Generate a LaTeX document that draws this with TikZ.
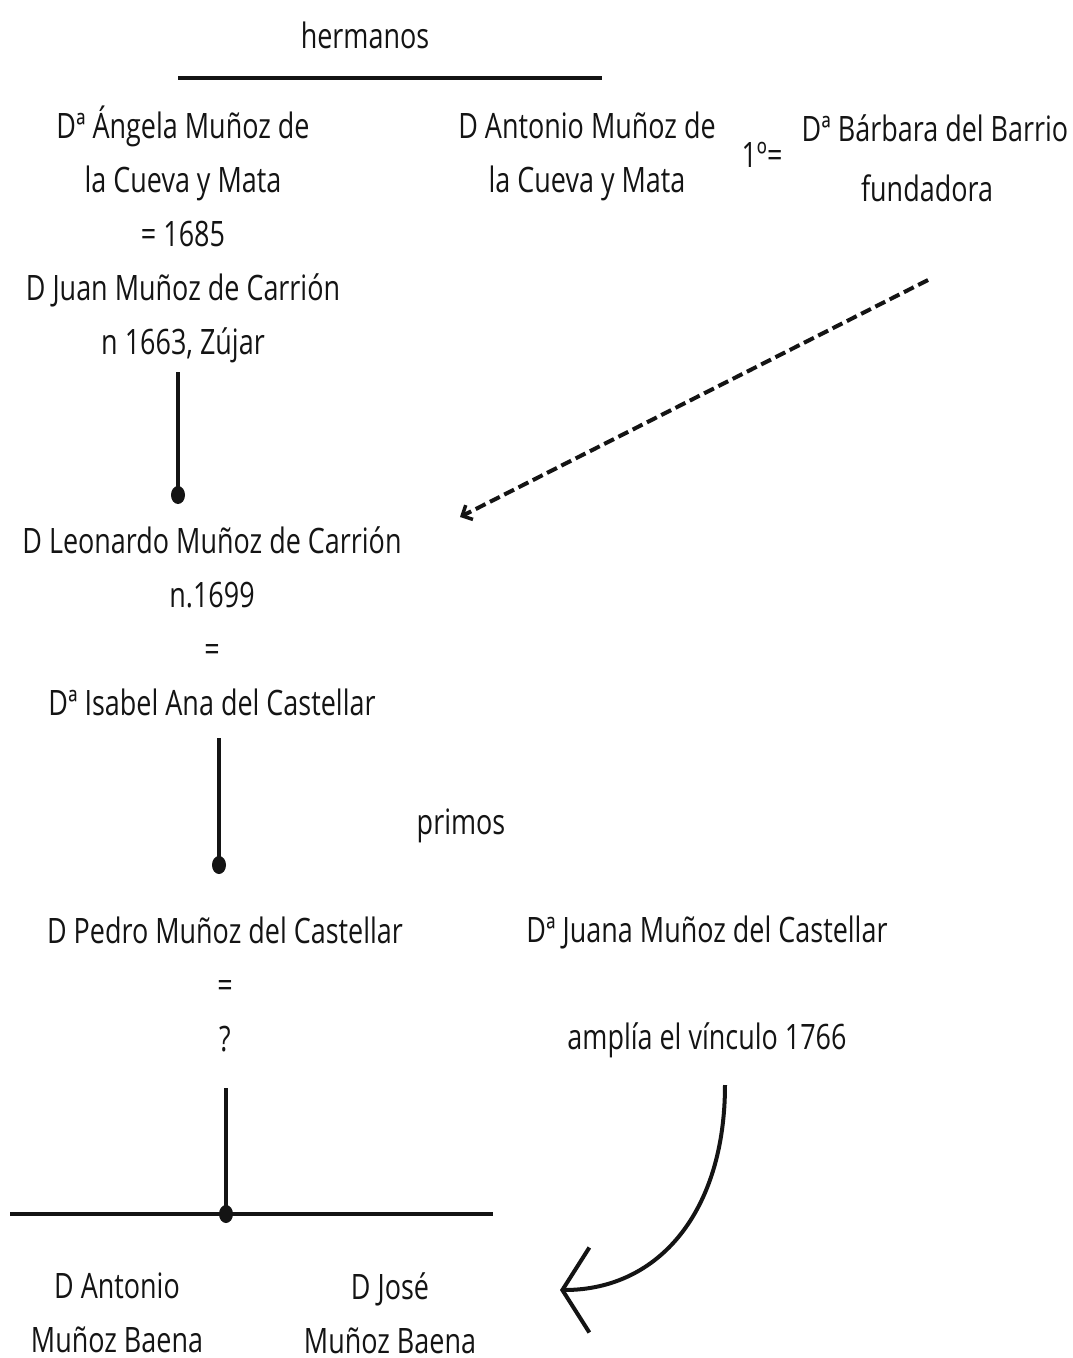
\documentclass[tikz,border=0pt]{standalone}
\usepackage{fontspec}
\setmainfont{Open Sans}[FakeStretch=0.77]
\usetikzlibrary{arrows.meta,shapes.geometric}
\definecolor{ink}{HTML}{141414}
\tikzset{
  txt/.style={align=center, inner sep=0pt, text=ink, font=\fontsize{35}{54}\selectfont},
  dot/.style={ellipse, fill=ink, minimum width=14pt, minimum height=18pt, inner sep=0pt},
  stem/.style={draw=ink, line width=3.5pt},
  bar/.style={draw=ink, line width=4.5pt},
}
\begin{document}
\begin{tikzpicture}[x=1pt,y=-1pt]
\useasboundingbox[fill=white] (0,0) rectangle (1073,1358);
\node[txt] (herm) at (365,35) {hermanos};
\coordinate (hL) at (178,78);
\coordinate (hR) at (602,78);
\draw[bar] (hL) -- (hR);
\node[txt] (angela) at (183,234) {Dª Ángela Muñoz de\\la Cueva y Mata\\= 1685\\D Juan Muñoz de Carrión\\n 1663, Zújar};
\node[txt] (antonio) at (587,156) {D Antonio Muñoz de\\la Cueva y Mata};
\node[txt] (uno) at (762,155) {1º=};
\node[txt] (barbara) at (935,158) {Dª Bárbara del Barrio\\[6pt]fundadora\hspace*{16pt}};
\coordinate (s1) at (178,372);
\node[dot] (d1) at (178,495) {};
\draw[stem] (s1) -- (d1.center);
\coordinate (da) at (928,280);
\coordinate (db) at (460,517);
\draw[draw=ink, line width=4pt, dash pattern=on 11pt off 5pt, -{Straight Barb[length=8pt,width=16pt,line width=3.5pt]}] (da) -- (db);
\node[txt] (leonardo) at (212,621) {D Leonardo Muñoz de Carrión\\n.1699\\=\\Dª Isabel Ana del Castellar};
\coordinate (s2) at (219,738);
\node[dot] (d2) at (219,865) {};
\draw[stem] (s2) -- (d2.center);
\node[txt] (primos) at (461,826) {primos};
\node[txt] (pedro) at (225,984) {D Pedro Muñoz del Castellar\\=\\?};
\node[txt] (juana) at (707,932) {Dª Juana Muñoz del Castellar};
\node[txt] (amplia) at (707,1040) {amplía el vínculo 1766};
\coordinate (s3) at (226,1088);
\node[dot] (d3) at (226,1214) {};
\draw[stem] (s3) -- (d3.center);
\coordinate (bL) at (10,1214);
\coordinate (bR) at (493,1214);
\draw[bar] (bL) -- (bR);
\node[txt] (hijo1) at (117,1313) {D Antonio\\Muñoz Baena};
\node[txt] (hijo2) at (390,1313) {D José\\Muñoz Baena};
\coordinate (ca) at (725,1085);
\coordinate (cb) at (560,1290);
\draw[draw=ink, line width=4pt, -{Straight Barb[length=27pt,width=85pt,line width=4pt]}] (ca) .. controls (725,1210) and (660,1290) .. (cb);
\end{tikzpicture}
\end{document}
